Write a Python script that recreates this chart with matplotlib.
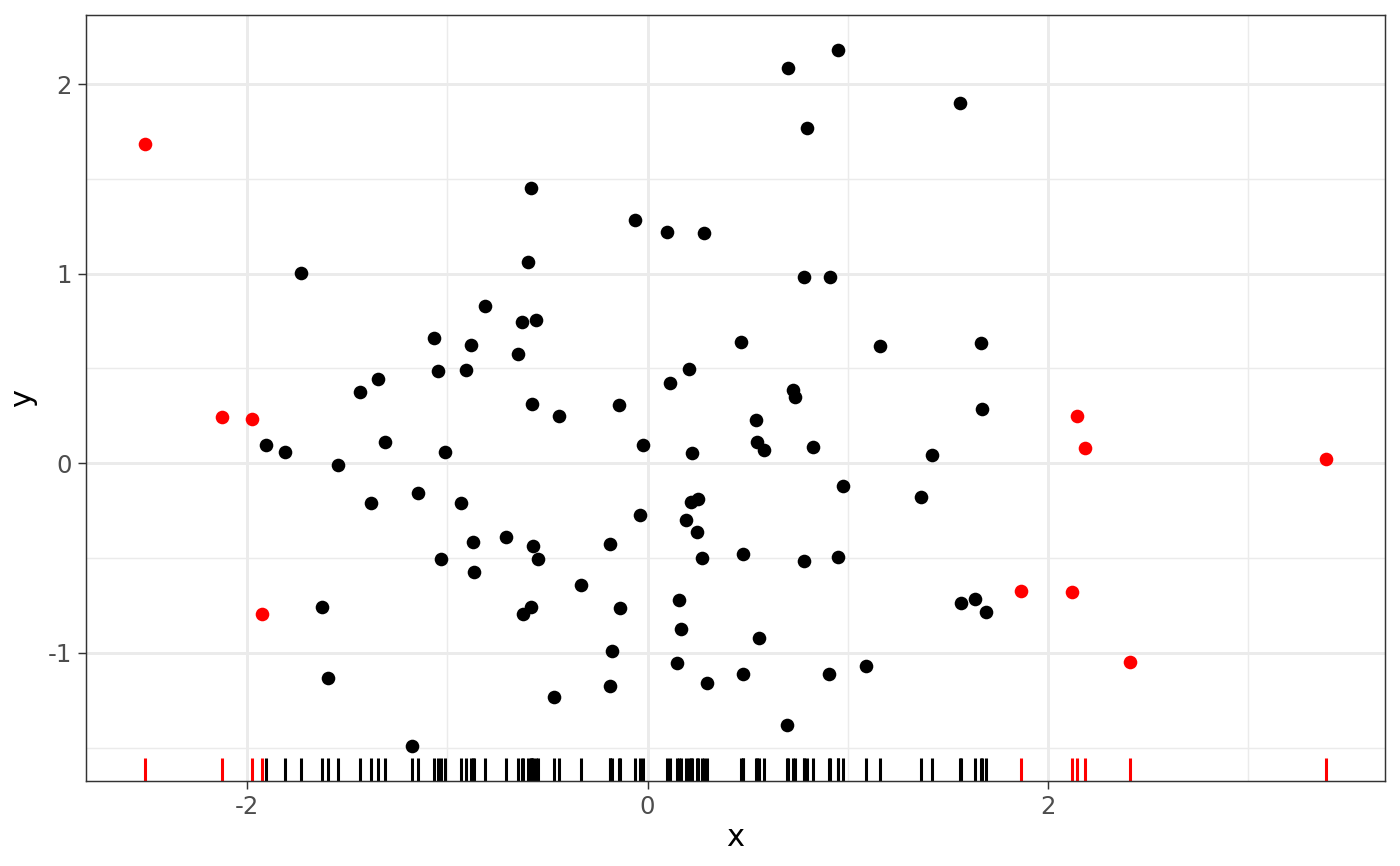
import matplotlib
matplotlib.use("Agg")
import matplotlib.pyplot as plt
from matplotlib.ticker import MultipleLocator
import numpy as np

# black (regular) points
x_black = [0.953, 0.703, 1.561, 0.798, -0.584, -0.065, 0.095, 0.284, -1.731, -0.599,
           0.783, 0.913, -0.813, -0.628, -0.559, -1.067, -0.883, 0.469, 1.162, 1.666,
           -0.648, -1.047, -0.908, 0.209, 0.110, -1.347, -1.436, 0.728, 0.738, -0.579,
           -0.145, 1.671, -0.444, 0.539, -1.312, -1.905, 0.544, -0.025, 0.828, -1.810,
           -1.012, 0.224, 0.579, 1.421, -1.546, 0.978, -1.147, 1.367, -1.382, -0.933,
           0.254, 0.219, -0.040, 0.190, 0.249, -0.708, -0.190, -0.873, -0.574, 0.474,
           0.953, -1.032, -0.549, 0.274, 0.783, -0.868, -0.334, 0.155, 1.566, 1.636,
           1.691, -1.626, -0.584, -0.623, -0.140, 0.165, 0.554, -0.180, 0.145, 1.092,
           0.474, 0.908, -1.596, -0.190, 0.299, -0.469, 0.698, -1.177]
y_black = [2.181, 2.086, 1.902, 1.771, 1.450, 1.282, 1.219, 1.214, 1.004, 1.061,
           0.983, 0.983, 0.830, 0.746, 0.757, 0.662, 0.625, 0.641, 0.620, 0.636,
           0.578, 0.487, 0.494, 0.499, 0.426, 0.447, 0.378, 0.389, 0.352, 0.315,
           0.305, 0.284, 0.252, 0.226, 0.110, 0.095, 0.110, 0.095, 0.084, 0.058,
           0.058, 0.053, 0.068, 0.042, -0.011, -0.121, -0.158, -0.179, -0.210, -0.210,
           -0.189, -0.205, -0.273, -0.300, -0.363, -0.389, -0.426, -0.415, -0.436, -0.478,
           -0.494, -0.504, -0.504, -0.499, -0.515, -0.573, -0.641, -0.720, -0.736, -0.715,
           -0.783, -0.757, -0.757, -0.793, -0.762, -0.872, -0.920, -0.988, -1.051, -1.067,
           -1.109, -1.109, -1.135, -1.177, -1.161, -1.235, -1.382, -1.492]

# red (outlier) points
x_red = [-2.509, -2.125, -1.975, -1.925, 1.865, 2.145, 2.185, 2.120, 2.409, 3.387]
y_red = [1.682, 0.242, 0.231, -0.793, -0.673, 0.247, 0.079, -0.678, -1.046, 0.021]

x_ticks = [-2, 0, 2]
y_ticks = [-1, 0, 1, 2]

fig = plt.figure(figsize=(7, 4.33), dpi=200)
ax = fig.add_axes([0.0614, 0.0982, 0.9279, 0.8845])

xall = np.array(x_black + x_red)
yall = np.array(y_black + y_red)
xr = xall.max() - xall.min()
yr = yall.max() - yall.min()
ax.set_xlim(xall.min() - 0.05 * xr, xall.max() + 0.05 * xr)
ax.set_ylim(yall.min() - 0.05 * yr, yall.max() + 0.05 * yr)

# grid
ax.set_axisbelow(True)
ax.xaxis.set_major_locator(MultipleLocator(2))
ax.xaxis.set_minor_locator(MultipleLocator(1))
ax.yaxis.set_major_locator(MultipleLocator(1))
ax.yaxis.set_minor_locator(MultipleLocator(0.5))
ax.grid(which="major", color="#EBEBEB", linewidth=1.07)
ax.grid(which="minor", color="#EBEBEB", linewidth=0.53)
ax.tick_params(which="minor", length=0)
ax.tick_params(which="major", length=2.75, width=0.53, color="#333333",
               labelsize=8.8, labelcolor="#4D4D4D", pad=2.2)
ax.set_xticks(x_ticks)
ax.set_yticks(y_ticks)
ax.set_xticklabels([str(v) for v in x_ticks])
ax.set_yticklabels([str(v) for v in y_ticks])

for s in ax.spines.values():
    s.set_color("#333333")
    s.set_linewidth(0.53)

# rugs
trans = ax.get_xaxis_transform()
ax.vlines(x_black, 0, 0.03, transform=trans, color="black", linewidth=1.1, zorder=2)
ax.vlines(x_red, 0, 0.03, transform=trans, color="red", linewidth=1.1, zorder=2)

# points
ax.scatter(x_black, y_black, s=24, color="black", linewidths=0, zorder=3)
ax.scatter(x_red, y_red, s=24, color="red", linewidths=0, zorder=3)

ax.set_xlabel("x", fontsize=11, labelpad=1.5)
ax.set_ylabel("y", fontsize=11, labelpad=4)

fig.savefig("out.png", dpi=200, facecolor="white")
